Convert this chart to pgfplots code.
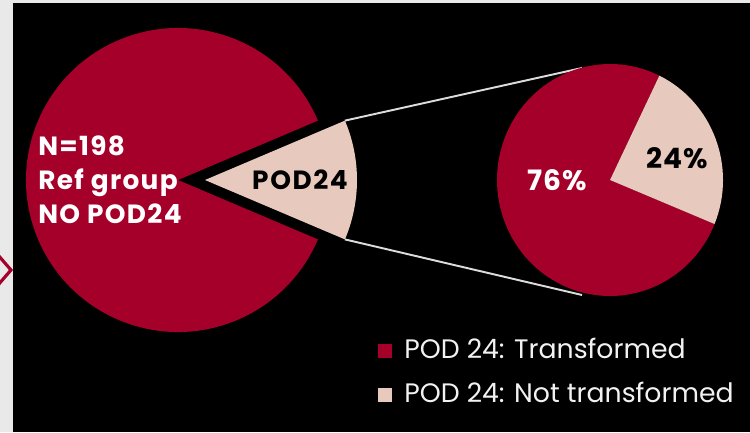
\documentclass[border=0pt]{standalone}
\usepackage{pgfplots}
\pgfplotsset{compat=1.18}
\usepackage{pgfplotstable}
\usepackage{fontspec}
\setmainfont{Poppins}
\definecolor{podred}{HTML}{A5002A}
\definecolor{podpink}{HTML}{E7CABD}
\definecolor{strip}{HTML}{E9E9E9}
\definecolor{connector}{HTML}{DCDCDC}

% left pie: patient counts
\pgfplotstableread{
group n
ref 198
pod 29
}\leftdata
% right pie: share of the POD24 group (%)
\pgfplotstableread{
group pct
transformed 76
nottransformed 24
}\rightdata

\begin{document}
\begin{tikzpicture}
\pgfplotstablegetelem{0}{n}\of\leftdata \let\nref\pgfplotsretval
\pgfplotstablegetelem{1}{n}\of\leftdata \let\npod\pgfplotsretval
\pgfplotstablegetelem{1}{pct}\of\rightdata \let\pnot\pgfplotsretval
\pgfmathsetmacro\half{180*\npod/(\nref+\npod)}
\pgfmathsetmacro\lax{178+152*cos(\half)}\pgfmathsetmacro\lay{252+152*sin(\half)}
\pgfmathsetmacro\sax{205+152*cos(\half)}\pgfmathsetmacro\say{252+152*sin(\half)}
\pgfmathsetmacro\sby{252-152*sin(\half)}
\pgfmathsetmacro\rs{-22.3}
\pgfmathsetmacro\re{\rs+3.6*\pnot}
\pgfmathsetmacro\rsx{610+113*cos(\rs)}\pgfmathsetmacro\rsy{252+116*sin(\rs)}
\pgfmathsetmacro\rex{610+113*cos(\re)}\pgfmathsetmacro\rey{252+116*sin(\re)}
\begin{axis}[width=15cm,height=8.64cm,scale only axis,axis lines=none,
  xtick=\empty,ytick=\empty,
  xmin=0,xmax=750,ymin=0,ymax=432,clip=false]
\fill[strip] (axis cs:0,0) rectangle (axis cs:750,432);
\fill[black] (axis cs:13,0) rectangle (axis cs:750,429);
\begin{scope}
\clip (axis cs:0,0) rectangle (axis cs:13,432);
\draw[podred,line width=1.8pt] (axis cs:-2,177) -- (axis cs:11,162) -- (axis cs:-2,147);
\end{scope}
% left pie
\fill[podred] (axis cs:178,252) -- (axis cs:\lax,\lay)
  arc[start angle=\half,end angle=360-\half,radius=152] -- cycle;
\fill[podpink] (axis cs:205,252) -- (axis cs:\sax,\say)
  arc[start angle=\half,end angle=-\half,radius=152] -- cycle;
% connectors
\draw[connector,line width=1.1pt] (axis cs:\sax,\say) -- (axis cs:582,364);
\draw[connector,line width=1.1pt] (axis cs:\sax,\sby) -- (axis cs:582,137);
% right pie
\fill[podred] (axis cs:610,252) -- (axis cs:\rex,\rey)
  arc[start angle=\re,end angle=360+\rs,x radius=113,y radius=116] -- cycle;
\fill[podpink] (axis cs:610,252) -- (axis cs:\rsx,\rsy)
  arc[start angle=\rs,end angle=\re,x radius=113,y radius=116] -- cycle;
% labels
\node[anchor=west,align=left,inner sep=0,text=white,
  font=\fontsize{15}{19.3}\selectfont\bfseries\addfontfeatures{LetterSpace=5}]
  at (axis cs:38,252) {N=198\\Ref group\\NO POD24};
\node[inner sep=0,font=\fontsize{15}{17}\selectfont\bfseries\addfontfeatures{LetterSpace=6}]
  at (axis cs:300,252) {POD24};
\node[inner sep=0,text=white,font=\fontsize{16}{18}\selectfont\bfseries\addfontfeatures{LetterSpace=3}]
  at (axis cs:557,252) {76\%};
\node[inner sep=0,font=\fontsize{16}{18}\selectfont\bfseries\addfontfeatures{LetterSpace=3}]
  at (axis cs:677,274) {24\%};
% legend
\fill[podred] (axis cs:377.5,74) rectangle (axis cs:391.5,88);
\fill[podpink] (axis cs:377.5,30) rectangle (axis cs:391.5,44);
\node[anchor=base west,inner sep=0,text=white!95!black,font=\fontsize{15.2}{16}\selectfont]
  at (axis cs:404,74) {POD 24: Transformed};
\node[anchor=base west,inner sep=0,text=white!95!black,font=\fontsize{15.2}{16}\selectfont]
  at (axis cs:404,30) {POD 24: Not transformed};
\end{axis}
\end{tikzpicture}
\end{document}
